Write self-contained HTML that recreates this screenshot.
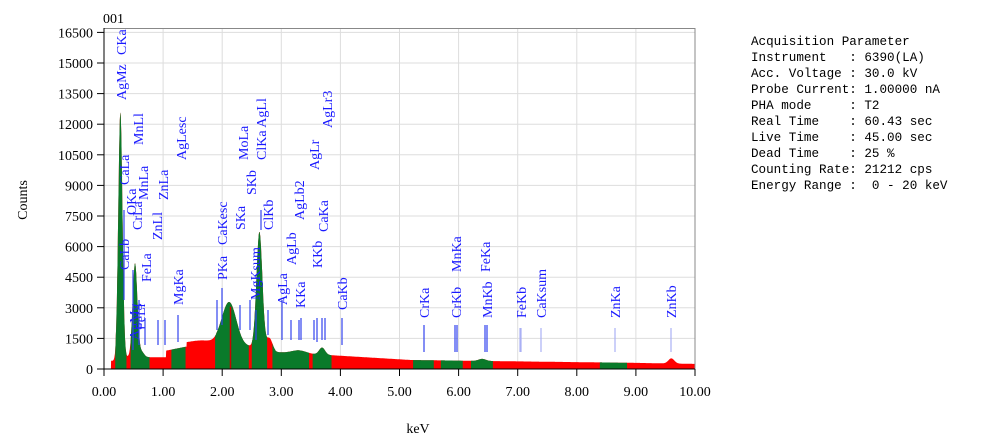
<!DOCTYPE html><html><head><style>
body{margin:0;background:#fff;width:986px;height:443px;overflow:hidden;font-family:"Liberation Serif",serif}
pre{position:absolute;left:751px;top:34px;margin:0;font-family:"Liberation Mono",monospace;font-size:12.6px;line-height:16px;color:#000}
</style></head><body>
<svg id="s" width="986" height="443" style="position:absolute;left:0;top:0" font-family="Liberation Serif, serif"></svg>
<pre>Acquisition Parameter
Instrument   : 6390(LA)
Acc. Voltage : 30.0 kV
Probe Current: 1.00000 nA
PHA mode     : T2
Real Time    : 60.43 sec
Live Time    : 45.00 sec
Dead Time    : 25 %
Counting Rate: 21212 cps
Energy Range :  0 - 20 keV</pre>
<script>
var X0=104,PX=59.1,Y0=369,PY=30.6/1500;
function xs(k){return X0+k*PX}function ys(c){return Y0-c*PY}
var h='';
for(var i=0;i<=10;i++){var x=xs(i);h+='<line x1="'+x+'" y1="28" x2="'+x+'" y2="369" stroke="#ddd"/>';}
for(var c=0;c<=16500;c+=1500){var y=ys(c);h+='<line x1="104" y1="'+y+'" x2="695" y2="'+y+'" stroke="#ddd"/>';}
function g(k,m,s){return Math.exp(-(k-m)*(k-m)/(2*s*s))}
function lerp(k,a,b,va,vb){return va+(k-a)/(b-a)*(vb-va)}
function base(k){
 if(k<0.12)return 0;if(k<0.2)return 400;if(k<1.05)return 580;
 if(k<1.4)return lerp(k,1.05,1.4,900,1100);
 if(k<1.9)return 1250+150*g(k,1.65,0.2);
 if(k<2.5)return lerp(k,1.9,2.5,1350,1100);
 if(k<2.9)return lerp(k,2.5,2.9,1100,850);
 if(k<4)return lerp(k,2.9,4,830,650);
 if(k<5.2)return lerp(k,4,5.2,650,440);
 if(k<9)return lerp(k,5.2,9,440,300);
 return lerp(k,9,10,300,250)}
function f(k){var v=base(k)+12000*g(k,0.277,0.035)+4600*g(k,0.525,0.04)+250*g(k,0.64,0.04)
 +1750*g(k,2.14,0.11)+500*g(k,2.02,0.1)+5700*g(k,2.63,0.05)+600*g(k,2.8,0.05)+150*g(k,3.3,0.12)+350*g(k,3.69,0.05)+100*g(k,6.4,0.06)+250*g(k,9.6,0.05);
 return Math.max(0,v)}
var p='M'+xs(0.1)+','+Y0;
for(var k=0.1;k<=10;k+=0.004){p+=' L'+xs(k).toFixed(1)+','+ys(f(k)).toFixed(1)}
p+=' L'+xs(10)+','+Y0+' Z';
var gr=[[0.19,0.38],[0.45,0.77],[1.14,1.38],[1.88,2.45],[2.5,2.76],[2.85,3.47],[3.53,3.85],[5.23,5.58],[5.7,6.07],[6.21,6.58],[8.39,8.85]];
h+='<defs><clipPath id="cg">';gr.forEach(function(r){h+='<rect x="'+xs(r[0])+'" y="0" width="'+(r[1]-r[0])*PX+'" height="443"/>'});h+='</clipPath></defs>';
h+='<path d="'+p+'" fill="#f00"/><path d="'+p+'" fill="#0a7a2a" clip-path="url(#cg)"/>';
h+='<line x1="'+xs(2.14)+'" y1="'+ys(3050)+'" x2="'+xs(2.14)+'" y2="369" stroke="#c00" stroke-width="1.5"/>';
h+='<rect x="104" y="28.5" width="591" height="340.5" fill="none" stroke="#888"/>';
h+='<line x1="104" y1="28" x2="104" y2="369" stroke="#000"/><line x1="97" y1="369" x2="695" y2="369" stroke="#000"/>';
for(var c=0;c<=16500;c+=1500){var y=ys(c);h+='<line x1="97" y1="'+y+'" x2="104" y2="'+y+'" stroke="#000"/><text x="93" y="'+(y+5)+'" font-size="14" text-anchor="end">'+c+'</text>';}
for(var i=0;i<=10;i++){var x=xs(i);h+='<line x1="'+x+'" y1="369" x2="'+x+'" y2="376" stroke="#000"/><text x="'+x+'" y="396" font-size="14" text-anchor="middle">'+i.toFixed(2)+'</text>';}
h+='<text x="103" y="23" font-size="14">001</text><text x="418" y="433" font-size="14" text-anchor="middle">keV</text>';
h+='<text transform="translate(27,200) rotate(-90)" font-size="14" text-anchor="middle">Counts</text>';
var L=[["CKa",121,55],["AgMz",121,100],["CaLa",124,185],["CaLb",124,270],["AgMg",134,340],["OKa",131,215],["CrLa",137,230],["MnLl",138,145],["MnLa",143,200],["FeLa",146,282],["FeLl",140,330],["ZnLl",157,240],["ZnLa",163,200],["AgLesc",181,160],["MgKa",178,305],["PKa",222,280],["CaKesc",222,245],["SKa",240,230],["MoLa",243,160],["SKb",251,195],["MgKsum",255,300],["ClKa AgLl",261,160],["ClKb",268,230],["AgLa",282,305],["AgLb",291,265],["AgLb2",299,220],["AgLr",314,170],["AgLr3",327,128],["KKa",300,308],["KKb",317,268],["CaKa",323,232],["CaKb",342,310],["CrKa",424,318],["CrKb",456,318],["MnKa",456,272],["MnKb",487,318],["FeKa",485,272],["FeKb",521,318],["CaKsum",541,318],["ZnKa",615,318],["ZnKb",671,318]];
L.forEach(function(l){h+='<text transform="translate('+(l[1]+5)+','+l[2]+') rotate(-90)" font-size="14" fill="#1a1aff">'+l[0]+'</text>'});
var V=[[124,210,300],[133,270,350],[139,300,345],[145,318,345],[158,320,345],[165,320,345],[178,315,342],[222,288,325],[217,300,330],[240,305,330],[250,300,330],[256,310,340],[261,210,230],[268,310,335],[282,300,340],[291,320,340],[299,320,340],[301,318,340],[314,320,340],[317,318,342],[322,318,340],[325,318,340],[342,318,345],[424,325,352],[455,325,352],[457,325,352],[487,325,352],[485,325,352]];
V.forEach(function(v){h+='<line x1="'+v[0]+'" y1="'+v[1]+'" x2="'+v[0]+'" y2="'+v[2]+'" stroke="#3344ee" stroke-width="1.2"/>'});
[[521,328,352],[520,328,352],[541,328,352],[615,328,352],[671,328,352]].forEach(function(v){h+='<line x1="'+v[0]+'" y1="'+v[1]+'" x2="'+v[0]+'" y2="'+v[2]+'" stroke="#aab0f5" stroke-width="1.2"/>'});
document.getElementById('s').innerHTML=h;
</script>
</body></html>
